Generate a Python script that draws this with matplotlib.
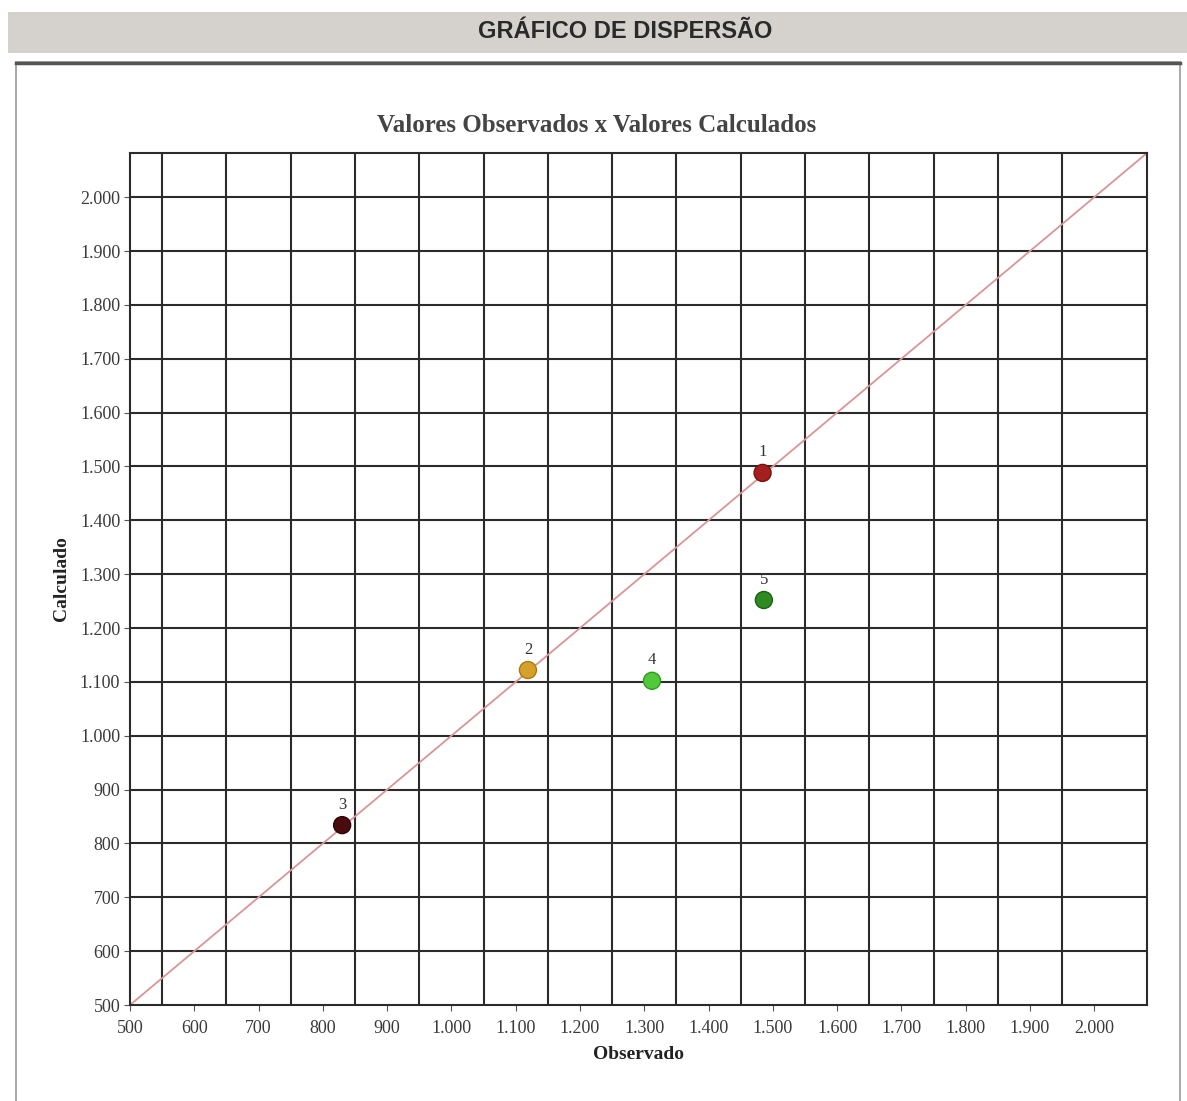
import numpy as np
import matplotlib
matplotlib.use("Agg")
import matplotlib.pyplot as plt
from matplotlib.patches import Rectangle
from matplotlib.ticker import FuncFormatter

# data
point_ids = ["1", "2", "3", "4", "5"]
observado = [1484, 1119, 830, 1312, 1486]
calculado = [1488, 1122, 834, 1102, 1252]
point_colors = ["#a3201f", "#d6a12a", "#4b0b0e", "#52c83a", "#2f8a24"]
edge_colors = ["#7a1010", "#a87a10", "#2a0505", "#2e9a20", "#1c6014"]

tick_values = list(range(500, 2001, 100))
grid_x = list(range(550, 2000, 100))
grid_y = list(range(600, 2001, 100))
axis_min, axis_max = 500, 2082

W, H = 1187, 1101
fig = plt.figure(figsize=(W / 100, H / 100), dpi=100)

# header bar
fig.patches.append(Rectangle((8 / W, 1 - 53 / H), 1 - 8 / W, 41 / H, transform=fig.transFigure,
                             facecolor="#d5d2ce", edgecolor="none", zorder=-2))
fig.text(625 / W, 1 - 32 / H, "GRÁFICO DE DISPERSÃO", ha="center", va="center",
         fontsize=17, fontweight="bold", color="#2a2a2a",
         family=["Liberation Sans Narrow", "Liberation Sans", "DejaVu Sans"])

# framed box
fig.patches.append(Rectangle((16 / W, -0.01), (1180 - 16) / W, 1 - 62 / H + 0.01, transform=fig.transFigure,
                             facecolor="white", edgecolor="#9a9a9a", linewidth=1.2, zorder=-2))
fig.lines.append(plt.Line2D([16 / W, 1180 / W], [1 - 63 / H, 1 - 63 / H], transform=fig.transFigure,
                            color="#555555", linewidth=2.5, zorder=-1))

ax = fig.add_axes([130 / W, 1 - 1005 / H, (1147 - 130) / W, (1005 - 153) / H])
ax.set_xlim(axis_min, axis_max)
ax.set_ylim(axis_min, axis_max)

for gx in grid_x:
    ax.axvline(gx, color="#2b2b2b", linewidth=1.5, zorder=1)
for gy in grid_y:
    ax.axhline(gy, color="#2b2b2b", linewidth=1.5, zorder=1)

ax.plot([axis_min, axis_max], [axis_min, axis_max], color="#d99595", linewidth=1.3, zorder=2)

ax.scatter(observado, calculado, s=150, c=point_colors, edgecolors=edge_colors, linewidths=1.0, zorder=3)
for pid, ox, cy in zip(point_ids, observado, calculado):
    ax.annotate(pid, (ox, cy), xytext=(0, 9), textcoords="offset points", ha="center", va="bottom",
                fontsize=12, family="Liberation Serif", color="#333333")

fmt = FuncFormatter(lambda v, p: f"{int(v):,}".replace(",", "."))
ax.set_xticks(tick_values)
ax.set_yticks(tick_values)
ax.xaxis.set_major_formatter(fmt)
ax.yaxis.set_major_formatter(fmt)
ax.tick_params(direction="out", length=4, width=0.8, color="#555555", labelsize=13, labelcolor="#3a3a3a")
ax.tick_params(axis="x", pad=7)
ax.tick_params(axis="y", pad=3)
for lbl in ax.get_xticklabels() + ax.get_yticklabels():
    lbl.set_family("Liberation Serif")

for sp in ax.spines.values():
    sp.set_color("#2b2b2b")
    sp.set_linewidth(1.5)

ax.set_title("Valores Observados x Valores Calculados", fontsize=18, fontweight="bold",
             family="Liberation Serif", color="#444444", pad=15, x=0.459)
ax.set_xlabel("Observado", fontsize=14, fontweight="bold", family="Liberation Serif", color="#222222", labelpad=6)
ax.set_ylabel("Calculado", fontsize=14, fontweight="bold", family="Liberation Serif", color="#222222", labelpad=7)

fig.savefig("out.png", dpi=100)
